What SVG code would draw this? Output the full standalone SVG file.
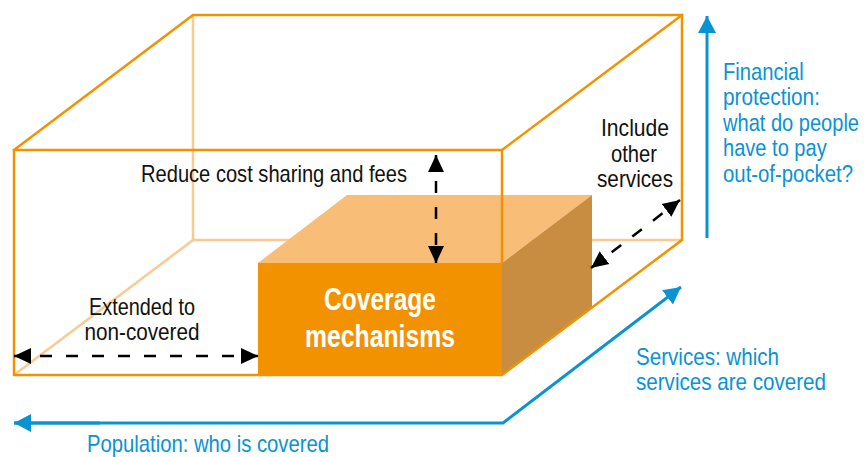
<svg xmlns="http://www.w3.org/2000/svg" width="864" height="457" viewBox="0 0 864 457">
<defs>
<style>
.solid{stroke:#f39200;stroke-width:2.5;fill:none;stroke-linecap:square}
.light{stroke:#fbca92;stroke-width:2.5;fill:none}
.dash{stroke:#000;stroke-width:2.5;fill:none;stroke-dasharray:12 14}
.blue{stroke:#0a93d2;stroke-width:3;fill:none}
.t{font-family:"Liberation Sans","Arial",sans-serif;font-size:24px;fill:#111}
.tb{font-family:"Liberation Sans","Arial",sans-serif;font-size:24px;fill:#0a93d2}
.tw{font-family:"Liberation Sans","Arial",sans-serif;font-size:32px;font-weight:bold;fill:#fff}
</style>
<marker id="ah" markerUnits="userSpaceOnUse" markerWidth="18" markerHeight="18" viewBox="0 0 18 18" refX="17" refY="9" orient="auto-start-reverse">
<path d="M0,1 L17,9 L0,17 z" fill="#000"/>
</marker>
<marker id="bh" markerUnits="userSpaceOnUse" markerWidth="18" markerHeight="18" viewBox="0 0 18 18" refX="17" refY="9" orient="auto">
<path d="M0,0 L17,9 L0,18 z" fill="#0a93d2"/>
</marker>
</defs>
<rect width="864" height="457" fill="#fff"/>
<g id="outer-back">
<line class="light" x1="193" y1="15" x2="193" y2="240"/>
<line class="light" x1="193" y1="240" x2="682" y2="240"/>
<line class="light" x1="14" y1="375" x2="193" y2="240"/>
</g>
<g id="coverage-mechanisms">
<polygon points="258,263 502,263 592,195 347,195" fill="#f8bd76"/>
<polygon points="502,263 592,195 592,307 502,376" fill="#c98d41"/>
<rect x="258" y="263" width="244" height="113" fill="#f39200"/>
<text class="tw" x="380" y="310" text-anchor="middle" textLength="112" lengthAdjust="spacingAndGlyphs">Coverage</text>
<text class="tw" x="380" y="347" text-anchor="middle" textLength="150" lengthAdjust="spacingAndGlyphs">mechanisms</text>
</g>
<g id="outer-box">
<polyline class="solid" points="502,263 502,150 14,150 14,375 502,375 682,240 682,15 193,15 14,150"/>
<line class="solid" x1="502" y1="150" x2="682" y2="15"/>
</g>
<g id="connectors">
<line class="dash" x1="14" y1="356" x2="258" y2="356" marker-start="url(#ah)" marker-end="url(#ah)"/>
<line class="dash" x1="436" y1="155" x2="436" y2="263" marker-start="url(#ah)" marker-end="url(#ah)"/>
<line class="dash" x1="591" y1="268" x2="680" y2="200" marker-start="url(#ah)" marker-end="url(#ah)"/>
<line class="blue" x1="707" y1="238" x2="707" y2="16" marker-end="url(#bh)"/>
<polyline class="blue" points="14,423 503,423 681,287" marker-end="url(#bh)"/>
<line class="blue" x1="100" y1="423" x2="14" y2="423" marker-end="url(#bh)"/>
</g>
<g id="label-reduce">
<text class="t" x="141" y="182" textLength="266" lengthAdjust="spacingAndGlyphs">Reduce cost sharing and fees</text>
</g>
<g id="label-include">
<text class="t" x="635" y="136" text-anchor="middle" textLength="68" lengthAdjust="spacingAndGlyphs">Include</text>
<text class="t" x="634" y="162" text-anchor="middle" textLength="46" lengthAdjust="spacingAndGlyphs">other</text>
<text class="t" x="635" y="187" text-anchor="middle" textLength="76" lengthAdjust="spacingAndGlyphs">services</text>
</g>
<g id="label-extended">
<text class="t" x="142" y="315" text-anchor="middle" textLength="106" lengthAdjust="spacingAndGlyphs">Extended to</text>
<text class="t" x="142" y="340" text-anchor="middle" textLength="115" lengthAdjust="spacingAndGlyphs">non-covered</text>
</g>
<g id="label-financial" transform="translate(723,0) scale(0.85,1)">
<text class="tb" x="0" y="80" textLength="95" lengthAdjust="spacingAndGlyphs">Financial</text>
<text class="tb" x="0" y="105" textLength="114" lengthAdjust="spacingAndGlyphs">protection:</text>
<text class="tb" x="0" y="131" textLength="160" lengthAdjust="spacingAndGlyphs">what do people</text>
<text class="tb" x="0" y="156" textLength="122" lengthAdjust="spacingAndGlyphs">have to pay</text>
<text class="tb" x="0" y="182" textLength="153" lengthAdjust="spacingAndGlyphs">out-of-pocket?</text>
</g>
<g id="label-services">
<text class="tb" x="636" y="365" textLength="143" lengthAdjust="spacingAndGlyphs">Services: which</text>
<text class="tb" x="636" y="390" textLength="190" lengthAdjust="spacingAndGlyphs">services are covered</text>
</g>
<g id="label-population">
<text class="tb" x="87" y="452" textLength="242" lengthAdjust="spacingAndGlyphs">Population: who is covered</text>
</g>
</svg>
